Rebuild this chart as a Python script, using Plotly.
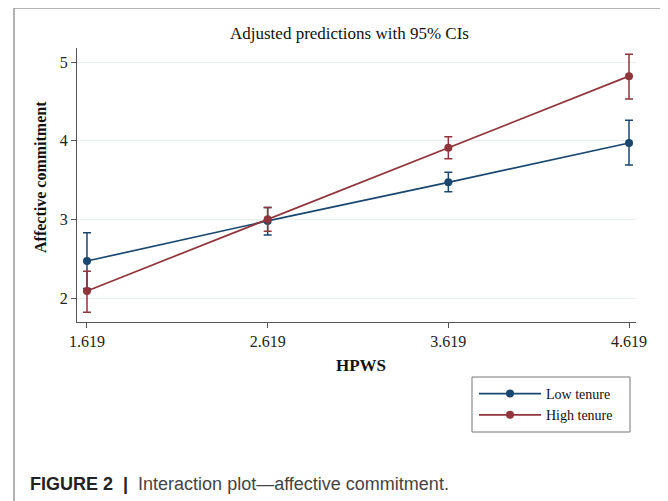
import plotly.graph_objects as go

# Data
hpws = [1.619, 2.619, 3.619, 4.619]
tick_labels = ["1.619", "2.619", "3.619", "4.619"]
y_ticks = [2, 3, 4, 5]

low_mean = [2.47, 2.98, 3.47, 3.97]
low_upper = [2.83, 3.15, 3.60, 4.26]
low_lower = [2.12, 2.80, 3.35, 3.69]

high_mean = [2.09, 3.00, 3.91, 4.82]
high_upper = [2.34, 3.15, 4.05, 5.10]
high_lower = [1.82, 2.85, 3.77, 4.53]

series = [
    ("Low tenure", low_mean, low_upper, low_lower, "#1a476f"),
    ("High tenure", high_mean, high_upper, high_lower, "#90353b"),
]

SERIF = "Liberation Serif"

fig = go.Figure()
for name, m, up, lo, col in series:
    fig.add_trace(go.Scatter(
        x=hpws, y=m, name=name, mode="lines+markers",
        line=dict(color=col, width=1.7),
        marker=dict(color=col, size=8),
        error_y=dict(type="data", symmetric=False,
                     array=[u - v for u, v in zip(up, m)],
                     arrayminus=[v - l for v, l in zip(m, lo)],
                     color=col, thickness=1.5, width=4),
    ))

# page body has an 8px margin; figure is sized to fit the window
W, H = 660, 493
L, R, T, B = 69, 32, 40, 179
pw, ph = W - L - R, H - T - B

def px(sx):  # screen x -> paper x
    return (sx - 8 - L) / pw

def py(sy):  # screen y -> paper y
    return (H - B - (sy - 8)) / ph

fig.update_layout(
    width=W, height=H,
    margin=dict(l=L, r=R, t=T, b=B),
    paper_bgcolor="white", plot_bgcolor="white",
    showlegend=True,
    legend=dict(x=px(474), y=py(378), xanchor="left", yanchor="top",
                borderwidth=0, bgcolor="rgba(0,0,0,0)",
                font=dict(family=SERIF, size=14, color="#111"),
                itemwidth=62, tracegroupgap=0),
    xaxis=dict(range=[1.5637, 4.6577], tickvals=hpws, ticktext=tick_labels,
               showgrid=False, zeroline=False, showline=True, linecolor="#555",
               linewidth=1, ticks="outside", ticklen=5, tickcolor="#555",
               tickfont=dict(family=SERIF, size=16, color="#222")),
    yaxis=dict(range=[1.695, 5.178], tickvals=y_ticks,
               showgrid=True, gridcolor="#e6eff0", gridwidth=1,
               zeroline=False, showline=True, linecolor="#555", linewidth=1,
               ticks="outside", ticklen=5, tickcolor="#555",
               tickfont=dict(family=SERIF, size=16, color="#222")),
    shapes=[
        dict(type="rect", xref="paper", yref="paper",
             x0=px(14), x1=px(667), y0=py(530), y1=py(8),
             line=dict(color="#999", width=1.5), layer="below"),
        dict(type="rect", xref="paper", yref="paper",
             x0=px(472), x1=px(630), y0=py(432), y1=py(377),
             line=dict(color="#777", width=1), layer="below"),
    ],
    annotations=[
        dict(text="Adjusted predictions with 95% CIs", xref="paper", yref="paper",
             x=px(349), y=py(33), xanchor="center", yanchor="middle",
             showarrow=False, font=dict(family=SERIF, size=17, color="#111")),
        dict(text="<b>HPWS</b>", xref="paper", yref="paper",
             x=px(361), y=py(365), xanchor="center", yanchor="middle",
             showarrow=False, font=dict(family=SERIF, size=17, color="#111")),
        dict(text="<b>Affective commitment</b>", xref="paper", yref="paper",
             x=px(40), y=py(177), xanchor="center", yanchor="middle",
             showarrow=False, textangle=-90,
             font=dict(family=SERIF, size=16, color="#111")),
        dict(text="<span style='color:#222'><b>FIGURE 2</b>  <b>|</b></span>  Interaction plot\u2014affective commitment.",
             xref="paper", yref="paper", x=px(28), y=py(484),
             xanchor="left", yanchor="middle", showarrow=False,
             font=dict(family="Liberation Sans", size=18, color="#444")),
    ],
)

fig.write_html("out.html")
